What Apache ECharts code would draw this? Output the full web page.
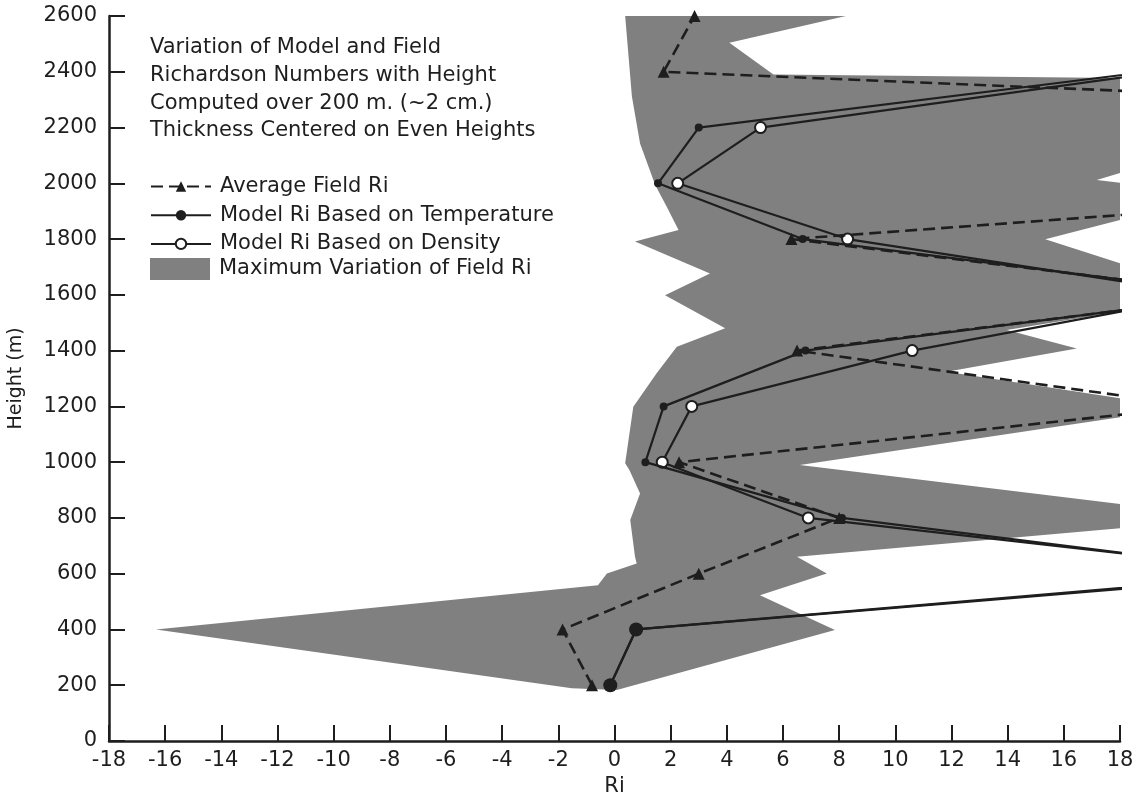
<!DOCTYPE html>
<html>
<head>
<meta charset="utf-8">
<script src="https://cdn.jsdelivr.net/npm/echarts@6/dist/echarts.min.js"></script>
<style>
html,body{margin:0;padding:0;background:#fff;}
#chart{width:1139px;height:798px;}
</style>
</head>
<body>
<div id="chart"></div>
<script>
// Heights (m) at which Ri was computed
const heights = [200, 400, 600, 800, 1000, 1200, 1400, 1600, 1800, 2000, 2200, 2400, 2600];
// Average Field Ri (values beyond 18 run off the plot)
const fieldRi = [-0.8, -1.85, 3.0, 8.0, 2.3, 20.8, 6.5, 22.5, 6.3, 33.5, 49.5, 1.75, 2.85];
// Model Ri based on temperature
const tempRi = [-0.15, 0.77, 24.0, 8.1, 1.1, 1.75, 6.8, 22.3, 6.7, 1.55, 3.0, 19.0, null];
// Model Ri based on density
const densRi = [-0.15, 0.77, 24.5, 6.9, 1.7, 2.75, 10.6, 21.2, 8.3, 2.25, 5.2, 19.5, null];

// Outline of the maximum variation of field Ri (Ri, height) traced around the band
const bandRi = [0.38, 8.24, 4.09, 5.66, 18, 18, 17.17, 18, 18, 15.34, 18, 18, 13.97, 16.46, 11.83, 18, 18, 6.6, 18, 18, 6.5, 7.56, 5.18, 7.85, 0.08, -1.52, -16.33, -0.59, -0.27, 0.79, 0.73, 0.56, 0.91, 0.53, 0.38, 0.67, 1.5, 2.22, 3.94, 1.8, 3.4, 0.73, 2.28, 1.86, 1.45, 0.91, 0.62];
const bandHeight = [2600, 2600, 2504, 2390, 2378, 2037, 2012, 2002, 1868, 1799, 1713, 1540, 1474, 1408, 1324, 1229, 1161, 990, 850, 763, 661, 601, 523, 398, 183, 189, 400, 559, 601, 637, 661, 793, 888, 972, 996, 1199, 1319, 1414, 1480, 1599, 1677, 1791, 1833, 1916, 1994, 2143, 2311];

// Axis ticks
const xMin = -18, xMax = 18, xStep = 2;
const yMin = 0, yMax = 2600, yStep = 200;

const titleLines = [
  'Variation of Model and Field',
  'Richardson Numbers with Height',
  'Computed over 200 m. (~2 cm.)',
  'Thickness Centered on Even Heights'
];
const names = {
  field: 'Average Field Ri',
  temp: 'Model Ri Based on Temperature',
  dens: 'Model Ri Based on Density',
  band: 'Maximum Variation of Field Ri'
};

const ink = '#1e1e1e';
const bandColor = '#808080';
const font = 'DejaVu Sans';

const pairs = (xs) => heights.map((h, i) => [xs[i], h]).filter(p => p[0] !== null);

const chart = echarts.init(document.getElementById('chart'), null, {renderer: 'canvas'});
chart.setOption({
  animation: false,
  backgroundColor: '#fff',
  textStyle: {fontFamily: font, color: ink},
  title: {
    text: titleLines.join('\n'),
    left: 145, top: 29,
    textStyle: {fontFamily: font, fontSize: 21, fontWeight: 'normal', color: ink, lineHeight: 27.7}
  },
  legend: [{
    data: [names.field, names.temp, names.dens],
    orient: 'vertical', left: 145, top: 171,
    itemWidth: 60, itemHeight: 13, itemGap: 7.7,
    textStyle: {fontFamily: font, fontSize: 21, color: ink, lineHeight: 20, padding: [0, 0, 0, 4]},
    selectedMode: false
  }, {
    data: [{name: names.band, icon: 'rect'}],
    orient: 'vertical', left: 145, top: 253,
    itemWidth: 60, itemHeight: 22,
    textStyle: {fontFamily: font, fontSize: 21, color: ink, padding: [0, 0, 0, 4]},
    selectedMode: false
  }],
  grid: {left: 109, right: 19, top: 16, bottom: 57, containLabel: false, outerBoundsMode: 'none'},
  xAxis: {
    type: 'value', min: xMin, max: xMax, interval: xStep,
    name: 'Ri', nameLocation: 'middle', nameGap: 34,
    nameTextStyle: {fontFamily: font, fontSize: 21, color: ink},
    axisLine: {show: true, onZero: false, lineStyle: {color: ink, width: 2.5}},
    axisTick: {show: true, inside: true, length: 16, lineStyle: {color: ink, width: 2}},
    axisLabel: {fontFamily: font, fontSize: 21, color: ink, margin: 9, formatter: (v) => String(v)},
    splitLine: {show: false}
  },
  yAxis: {
    type: 'value', min: yMin, max: yMax, interval: yStep,
    name: 'Height (m)', nameLocation: 'middle', nameGap: 83,
    nameTextStyle: {fontFamily: font, fontSize: 19, color: ink},
    axisLine: {show: true, onZero: false, lineStyle: {color: ink, width: 2.5}},
    axisTick: {show: true, inside: true, length: 16, lineStyle: {color: ink, width: 2}},
    axisLabel: {fontFamily: font, fontSize: 21, color: ink, margin: 12, formatter: (v) => String(v)},
    splitLine: {show: false}
  },
  series: [{
    name: names.band,
    type: 'custom',
    clip: true,
    z: 1,
    itemStyle: {color: bandColor},
    data: bandRi.map((x, i) => [x, bandHeight[i]]),
    encode: {x: 0, y: 1},
    renderItem: function (params, api) {
      if (params.dataIndex !== 0) return null;
      const pts = bandRi.map((x, i) => api.coord([x, bandHeight[i]]));
      return {type: 'polygon', shape: {points: pts}, style: {fill: bandColor}};
    }
  }, {
    name: names.dens,
    type: 'line',
    z: 3,
    data: pairs(densRi),
    symbol: 'emptyCircle',
    symbolSize: 11,
    clip: true,
    lineStyle: {color: ink, width: 2.2},
    itemStyle: {color: ink, borderWidth: 2, borderColor: ink}
  }, {
    name: names.field,
    type: 'line',
    z: 4,
    data: pairs(fieldRi),
    symbol: 'triangle',
    symbolSize: 12,
    clip: true,
    lineStyle: {color: ink, width: 2.6, type: [12, 6]},
    itemStyle: {color: ink}
  }, {
    name: names.temp,
    type: 'line',
    z: 5,
    data: pairs(tempRi),
    symbol: 'circle',
    symbolSize: function (v) { return v[1] <= 400 ? 14 : 8; },
    clip: true,
    lineStyle: {color: ink, width: 2.2},
    itemStyle: {color: ink}
  }]
});
</script>
</body>
</html>
